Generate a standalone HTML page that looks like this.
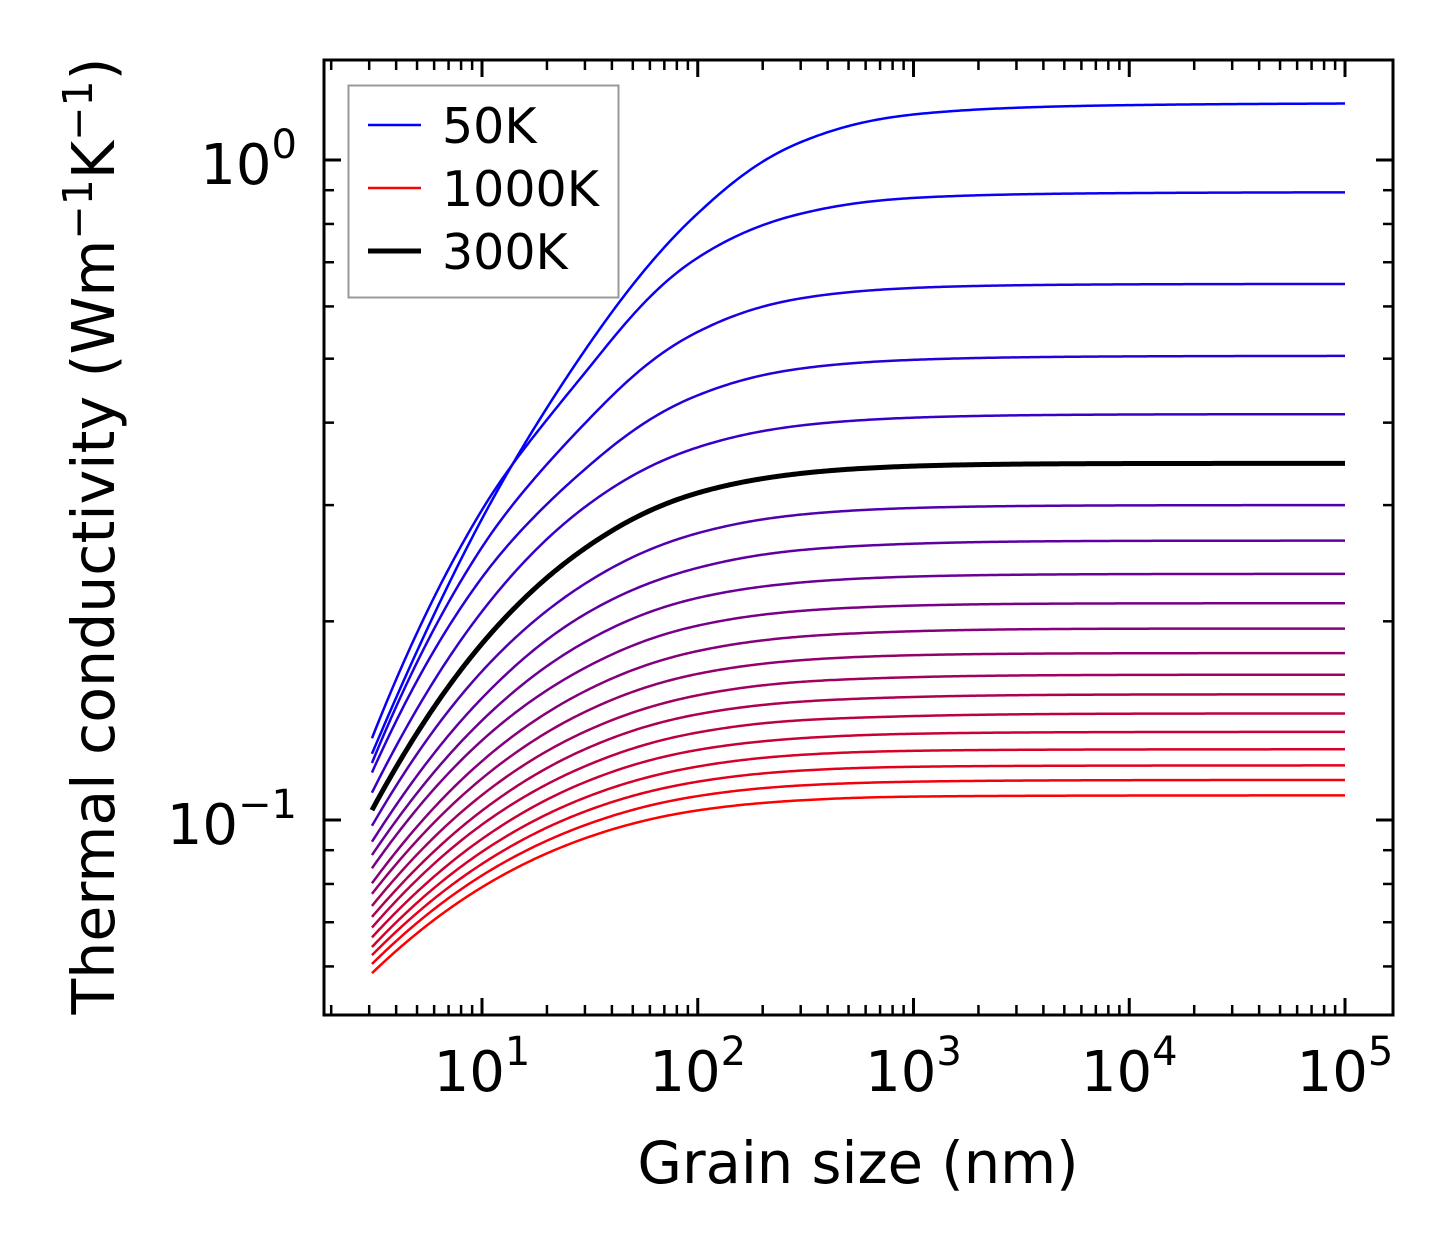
<!DOCTYPE html>
<html><head><meta charset="utf-8"><style>
html,body{margin:0;padding:0;background:#fff;}
svg{display:block;font-family:"DejaVu Sans","Liberation Sans",sans-serif;}
</style></head><body>
<svg id="chart" width="1454" height="1254" viewBox="0 0 1454 1254" xmlns="http://www.w3.org/2000/svg">
<rect width="1454" height="1254" fill="#fff"/>
<g id="curves"></g>
<g id="ticks"></g>
<rect x="324" y="60" width="1069" height="955" fill="none" stroke="#000" stroke-width="3"/>
<g>
<rect x="348.5" y="85.5" width="270" height="212" fill="#fff" fill-opacity="0.8" stroke="#999" stroke-width="2"/>
<line x1="368" y1="125" x2="421" y2="125" stroke="#0000ff" stroke-width="2.5"/>
<text x="442" y="143" font-size="49">50K</text>
<line x1="368" y1="188" x2="421" y2="188" stroke="#ff0000" stroke-width="2.5"/>
<text x="442" y="206" font-size="49">1000K</text>
<line x1="368" y1="251" x2="421" y2="251" stroke="#000" stroke-width="5"/>
<text x="442" y="269" font-size="49">300K</text>
</g>
<text x="858" y="1183" font-size="57.5" text-anchor="middle">Grain size (nm)</text>
<text transform="translate(114,536) rotate(-90)" font-size="58.5" text-anchor="middle">Thermal conductivity (Wm<tspan font-size="41" dy="-22">−1</tspan><tspan dy="22">K</tspan><tspan font-size="41" dy="-22">−1</tspan><tspan dy="22">)</tspan></text>
</svg>
<script>
var grainSizes=[3.09,10,30,100,300,1000,10000,100000];
var temperatures=[50,100,150,200,250,300,350,400,450,500,550,600,650,700,750,800,850,900,950,1000];
var k50=[0.126,0.286,0.515,0.830,1.064,1.172,1.211,1.22];
var k100=[0.133,0.295,0.476,0.711,0.829,0.876,0.891,0.894];
var k150=[0.122,0.259,0.399,0.549,0.617,0.640,0.648,0.649];
var k200=[0.118,0.233,0.340,0.440,0.483,0.498,0.504,0.505];
var k250=[0.110,0.207,0.298,0.367,0.396,0.407,0.4115,0.412];
var k300=[0.1035,0.185,0.258,0.313,0.335,0.3437,0.3468,0.347];
var k350=[0.098,0.168,0.228,0.272,0.2902,0.2970,0.2997,0.300];
var k400=[0.0927,0.153,0.205,0.241,0.2564,0.2622,0.2648,0.265];
var k450=[0.0885,0.1415,0.186,0.217,0.2290,0.2338,0.2358,0.236];
var k500=[0.0845,0.132,0.170,0.197,0.2074,0.2113,0.2129,0.213];
var k550=[0.0802,0.1228,0.1567,0.1803,0.1896,0.1932,0.1949,0.195];
var k600=[0.0773,0.1156,0.1458,0.1665,0.1746,0.1777,0.1789,0.179];
var k650=[0.0741,0.1091,0.1361,0.1545,0.1619,0.1646,0.1659,0.166];
var k700=[0.0713,0.1033,0.128,0.1446,0.1511,0.1536,0.1549,0.155];
var k750=[0.0687,0.0984,0.1206,0.1357,0.1416,0.1437,0.1449,0.145];
var k800=[0.0664,0.0936,0.1141,0.1277,0.1330,0.1351,0.1359,0.136];
var k850=[0.0642,0.0895,0.1081,0.1205,0.1255,0.1273,0.1279,0.128];
var k900=[0.0624,0.0858,0.1030,0.1143,0.1188,0.1204,0.1209,0.121];
var k950=[0.0605,0.0824,0.0982,0.1087,0.1128,0.1143,0.1149,0.115];
var k1000=[0.0586,0.0791,0.0938,0.1034,0.1071,0.1085,0.1089,0.109];
var xTickLabels=["1","2","3","4","5"];
var yTickLabels=["0","−1"];
var series=[k50,k100,k150,k200,k250,k300,k350,k400,k450,k500,k550,k600,k650,k700,k750,k800,k850,k900,k950,k1000];

var NS="http://www.w3.org/2000/svg";
var L=324,R=1393,T=60,B=1015;
function xs(v){return 482+(Math.log10(v)-1)*215.75;}
function ys(v){return 160-Math.log10(v)*660;}

function pchip(xa,ya){
  var n=xa.length,d=[],h=[],m=[];
  for(var i=0;i<n-1;i++){h.push(xa[i+1]-xa[i]);d.push((ya[i+1]-ya[i])/h[i]);}
  for(var i=1;i<n-1;i++){
    if(d[i-1]*d[i]<=0){m[i]=0;continue;}
    var w1=2*h[i]+h[i-1],w2=h[i]+2*h[i-1];
    m[i]=(w1+w2)/(w1/d[i-1]+w2/d[i]);
  }
  m[0]=n>2?(2*d[0]-m[1]):d[0];
  m[n-1]=n>2?(2*d[n-2]-m[n-2]):d[n-2];
  return function(x){
    if(x>=xa[n-1])return ya[n-1]+m[n-1]*(x-xa[n-1]);
    var i=0;while(i<n-2&&x>xa[i+1])i++;
    var hh=h[i],t=(x-xa[i])/hh,t2=t*t,t3=t2*t;
    return (2*t3-3*t2+1)*ya[i]+(t3-2*t2+t)*hh*m[i]+(-2*t3+3*t2)*ya[i+1]+(t3-t2)*hh*m[i+1];
  };
}
function curveFn(s){
  var kinf=Math.log10(s[s.length-1]),px=[],py=[];
  for(var i=0;i<s.length-1;i++){
    var D=kinf-Math.log10(s[i]);
    if(D>0){px.push(Math.log10(grainSizes[i]));py.push(Math.log10(D));}
  }
  var f=pchip(px,py);
  return function(x){return Math.pow(10,kinf-Math.pow(10,f(x)));};
}
var cg=document.getElementById('curves');
var lx0=Math.log10(grainSizes[0]),lx1=Math.log10(grainSizes[grainSizes.length-1]);
var blackEl=null;
series.forEach(function(s,idx){
  var f=curveFn(s);
  var pts=[];
  for(var j=0;j<=400;j++){
    var x=lx0+(lx1-lx0)*j/400;
    pts.push(xs(Math.pow(10,x)).toFixed(2)+","+ys(f(x)).toFixed(2));
  }
  var p=document.createElementNS(NS,'polyline');
  p.setAttribute('points',pts.join(' '));
  p.setAttribute('fill','none');
  var t=idx/(series.length-1);
  var black=temperatures[idx]===300;
  p.setAttribute('stroke',black?'#000':'rgb('+Math.round(255*t)+',0,'+Math.round(255*(1-t))+')');
  p.setAttribute('stroke-width',black?5:2.5);
  p.setAttribute('stroke-linejoin','round');
  
  
  if(black)blackEl=p;else cg.appendChild(p);
});
if(blackEl)cg.appendChild(blackEl);

var tg=document.getElementById('ticks');
function ln(x1,y1,x2,y2,w,name){
  var l=document.createElementNS(NS,'line');
  l.setAttribute('x1',x1);l.setAttribute('y1',y1);l.setAttribute('x2',x2);l.setAttribute('y2',y2);
  l.setAttribute('stroke','#000');l.setAttribute('stroke-width',w);
  
  
  tg.appendChild(l);
}
for(var e=0;e<=5;e++){
  for(var k=1;k<10;k++){
    var v=k*Math.pow(10,e),x=xs(v);
    if(x<L+1||x>R-1)continue;
    var len=k===1?17:10,w=k===1?3:2.5;
    ln(x,B,x,B-len,w,'x-tick');
    ln(x,T,x,T+len,w,'x-tick-top');
  }
}
xTickLabels.forEach(function(lb,i){
  var x=xs(Math.pow(10,i+1));
  var t=document.createElementNS(NS,'text');
  t.setAttribute('x',x);t.setAttribute('y',1091);t.setAttribute('font-size','56');t.setAttribute('text-anchor','middle');
  t.innerHTML='10<tspan font-size="40" dy="-26">'+lb+'</tspan>';
  
  
  tg.appendChild(t);
});
for(var e=-2;e<=0;e++){
  for(var k=1;k<10;k++){
    var v=k*Math.pow(10,e),y=ys(v);
    if(y<T+1||y>B-1)continue;
    var len=k===1?17:10,w=k===1?3:2.5;
    ln(L,y,L+len,y,w,'y-tick');
    ln(R,y,R-len,y,w,'y-tick-right');
  }
}
yTickLabels.forEach(function(lb,i){
  var y=ys(Math.pow(10,-i));
  var t=document.createElementNS(NS,'text');
  t.setAttribute('x',297);t.setAttribute('y',y+24);t.setAttribute('font-size','56');t.setAttribute('text-anchor','end');
  t.innerHTML='10<tspan font-size="40" dy="-26">'+lb+'</tspan>';
  
  
  tg.appendChild(t);
});
</script>
</body></html>
